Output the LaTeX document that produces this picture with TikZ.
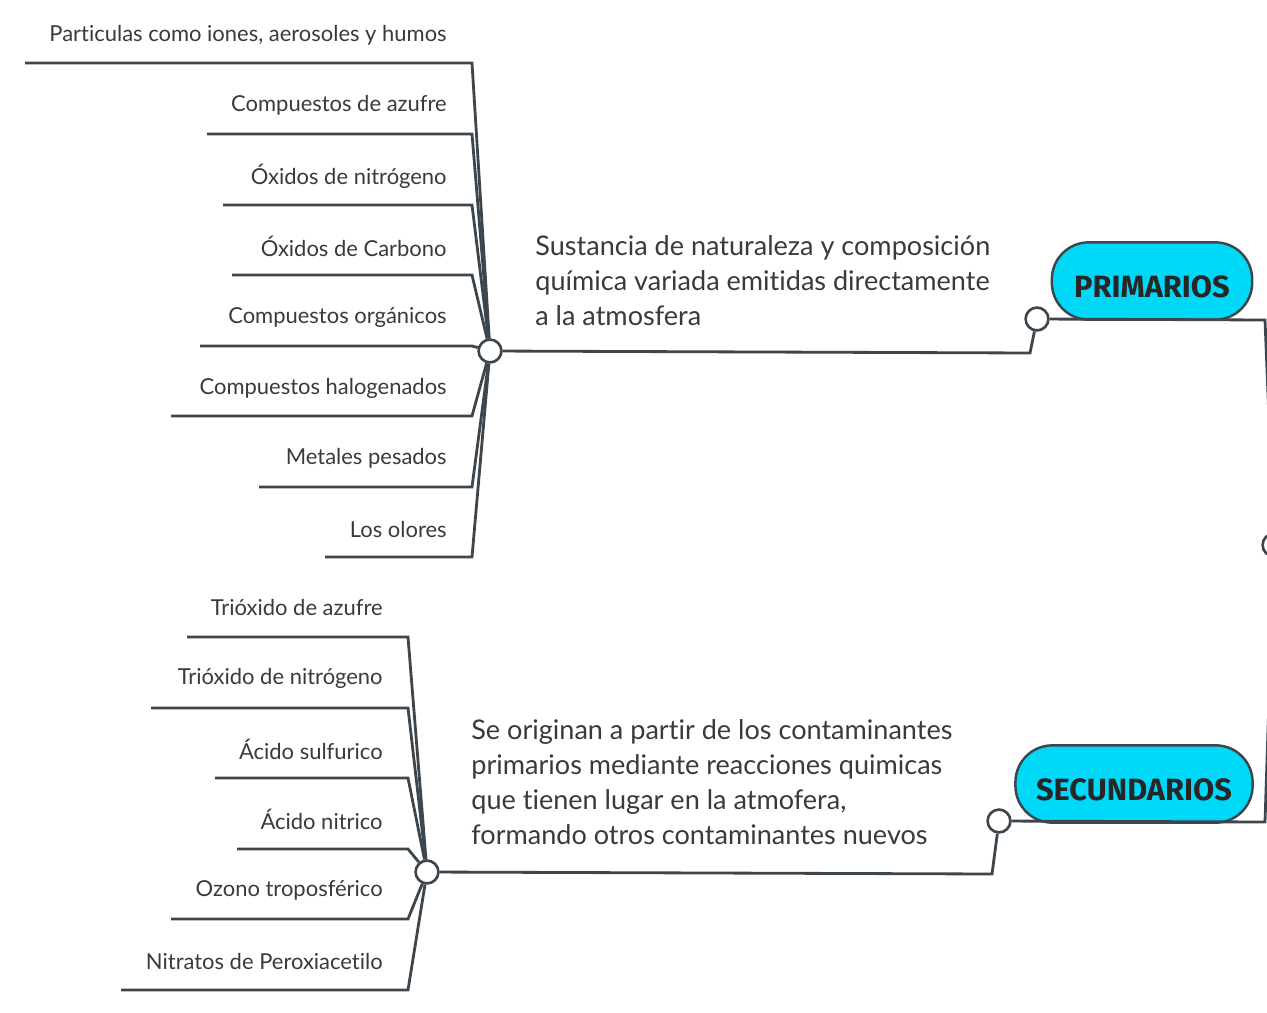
\documentclass[tikz,border=0pt]{standalone}
\usepackage{fontspec}
\setmainfont[Ligatures=NoCommon]{Lato}
\newfontfamily\capfont{Fira Sans}
\definecolor{linegray}{HTML}{3D464D}
\definecolor{textgray}{HTML}{3A3A3A}
\definecolor{capsulecyan}{HTML}{00D8F8}
\tikzset{
  leaf/.style={anchor=east, inner sep=0pt, text=textgray, font=\fontsize{12.5}{15}\selectfont},
  branch/.style={draw=linegray, line width=1.6pt},
  joint/.style={circle, draw=linegray, fill=white, line width=1.5pt, minimum size=13pt, inner sep=0pt},
  note/.style={anchor=north west, align=left, inner sep=0pt, text=textgray, font=\fontsize{15.4}{20}\selectfont},
  capsule/.style={draw=linegray, fill=capsulecyan, line width=1.4pt, rounded corners=21pt, minimum height=44pt, text height=19pt, text depth=0pt, font=\capfont\bfseries\fontsize{17.5}{20}\selectfont, text=black!85}
}

\begin{document}
\begin{tikzpicture}[x=0.02cm, y=-0.02cm]
  \useasboundingbox (0,0) rectangle (1267,1013);
  \clip (0,0) rectangle (1267,1013);

  % root and main branches
  \node [joint] (root) at (1274,545) {};
  \node [capsule, minimum width=114pt] (prim) at (1152,281) {PRIMARIOS};
  \node [capsule, minimum width=135pt] (secu) at (1134,784) {SECUNDARIOS};
  \node [joint] (knobA) at (1037,319) {};
  \node [joint] (knobB) at (999,821) {};
  \node [joint] (hubA) at (490,351) {};
  \node [joint] (hubB) at (427,872) {};
  \coordinate (bendA) at (1030,353);
  \coordinate (bendB) at (992,874);
  \coordinate (cornerA) at (1265,320);
  \coordinate (cornerB) at (1265,822);

  \draw [branch] (knobA) -- (cornerA) -- (root);
  \draw [branch] (knobB) -- (cornerB) -- (root);
  \draw [branch] (hubA) -- (bendA) -- (knobA);
  \draw [branch] (hubB) -- (bendB) -- (knobB);

  % descriptions
  \node [note] (noteA) at (535,235) {Sustancia de naturaleza y composición\\química variada emitidas directamente\\a la atmosfera};
  \node [note] (noteB) at (471,719) {Se originan a partir de los contaminantes\\primarios mediante reacciones quimicas\\que tienen lugar en la atmofera,\\formando otros contaminantes nuevos};

  % primarios leaves
  \node [leaf] (p1) at (447,35) {Particulas como iones, aerosoles y humos};
  \node [leaf] (p2) at (447,105) {Compuestos de azufre};
  \node [leaf] (p3) at (447,176) {Óxidos de nitrógeno};
  \node [leaf] (p4) at (447,246) {Óxidos de Carbono};
  \node [leaf] (p5) at (447,317) {Compuestos orgánicos};
  \node [leaf] (p6) at (447,388) {Compuestos halogenados};
  \node [leaf] (p7) at (447,458) {Metales pesados};
  \node [leaf] (p8) at (447,529) {Los olores};

  \coordinate (pe1) at (472,63);   \coordinate (pl1) at (25,63);
  \coordinate (pe2) at (472,134);  \coordinate (pl2) at (207,134);
  \coordinate (pe3) at (472,205);  \coordinate (pl3) at (223,205);
  \coordinate (pe4) at (472,275);  \coordinate (pl4) at (232,275);
  \coordinate (pe5) at (472,346);  \coordinate (pl5) at (200,346);
  \coordinate (pe6) at (472,416);  \coordinate (pl6) at (171,416);
  \coordinate (pe7) at (472,487);  \coordinate (pl7) at (259,487);
  \coordinate (pe8) at (472,557);  \coordinate (pl8) at (325,557);

  \draw [branch] (hubA) -- (pe1) -- (pl1);
  \draw [branch] (hubA) -- (pe2) -- (pl2);
  \draw [branch] (hubA) -- (pe3) -- (pl3);
  \draw [branch] (hubA) -- (pe4) -- (pl4);
  \draw [branch] (hubA) -- (pe5) -- (pl5);
  \draw [branch] (hubA) -- (pe6) -- (pl6);
  \draw [branch] (hubA) -- (pe7) -- (pl7);
  \draw [branch] (hubA) -- (pe8) -- (pl8);

  % secundarios leaves
  \node [leaf] (s1) at (383,607) {Trióxido de azufre};
  \node [leaf] (s2) at (383,678) {Trióxido de nitrógeno};
  \node [leaf] (s3) at (383,749) {Ácido sulfurico};
  \node [leaf] (s4) at (383,819) {Ácido nitrico};
  \node [leaf] (s5) at (383,890) {Ozono troposférico};
  \node [leaf] (s6) at (383,961) {Nitratos de Peroxiacetilo};

  \coordinate (se1) at (408,637);  \coordinate (sl1) at (187,637);
  \coordinate (se2) at (408,708);  \coordinate (sl2) at (151,708);
  \coordinate (se3) at (408,778);  \coordinate (sl3) at (215,778);
  \coordinate (se4) at (408,849);  \coordinate (sl4) at (237,849);
  \coordinate (se5) at (408,919);  \coordinate (sl5) at (171,919);
  \coordinate (se6) at (408,990);  \coordinate (sl6) at (121,990);

  \draw [branch] (hubB) -- (se1) -- (sl1);
  \draw [branch] (hubB) -- (se2) -- (sl2);
  \draw [branch] (hubB) -- (se3) -- (sl3);
  \draw [branch] (hubB) -- (se4) -- (sl4);
  \draw [branch] (hubB) -- (se5) -- (sl5);
  \draw [branch] (hubB) -- (se6) -- (sl6);
\end{tikzpicture}
\end{document}
